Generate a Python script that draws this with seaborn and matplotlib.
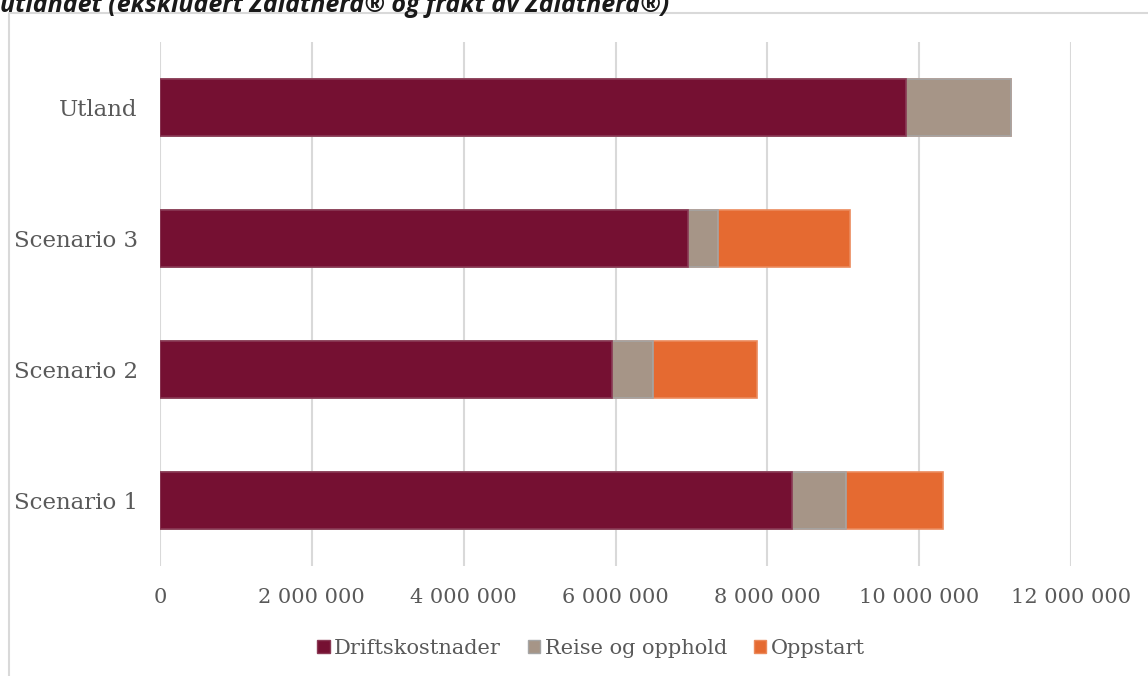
import matplotlib
matplotlib.use("Agg")
import matplotlib.pyplot as plt
from matplotlib.patches import Rectangle, Patch
import seaborn as sns
import pandas as pd
import numpy as np

categories = ["Utland", "Scenario 3", "Scenario 2", "Scenario 1"]
driftskostnader = [9830000, 6960000, 5950000, 8330000]
reise_og_opphold = [1380000, 390000, 550000, 700000]
oppstart = [0, 1740000, 1360000, 1280000]
series_names = ["Driftskostnader", "Reise og opphold", "Oppstart"]
colors = ["#751032", "#a69587", "#e56a31"]
edge_colors = ["#8a3a55", "#a5a5a5", "#eb8a5c"]
xticks = [0, 2000000, 4000000, 6000000, 8000000, 10000000, 12000000]

sns.set_theme(style="white")
plt.rcParams["font.family"] = ["DejaVu Serif"]

df = pd.DataFrame({
    "kategori": categories,
    "d": driftskostnader,
    "r": reise_og_opphold,
    "o": oppstart,
})
df["c1"] = df["d"]
df["c2"] = df["d"] + df["r"]
df["c3"] = df["c2"] + df["o"]

fig = plt.figure(figsize=(11.48, 6.76), dpi=100)
ax = fig.add_axes([160 / 1148, 1 - 566 / 676, 911 / 1148, 524 / 676])

# stacked bars: draw cumulative totals from back to front
for col, c, ec in zip(["c3", "c2", "c1"], colors[::-1], edge_colors[::-1]):
    sns.barplot(data=df, x=col, y="kategori", order=categories, color=c,
                saturation=1, width=0.435, edgecolor=ec, linewidth=1.2,
                ax=ax, orient="h", zorder=3)

ax.set_xlim(0, 12000000)
ax.set_ylim(3.5, -0.5)
ax.set_xticks(xticks)
ax.set_xticklabels([f"{v:,}".replace(",", " ") for v in xticks])
ax.xaxis.grid(True, color="#d9d9d9", linewidth=1.5, zorder=0)
ax.set_axisbelow(True)
ax.set_xlabel("")
ax.set_ylabel("")
for s in ax.spines.values():
    s.set_visible(False)
ax.tick_params(axis="both", length=0, colors="#595959")
ax.tick_params(axis="x", pad=16, labelsize=15)
ax.tick_params(axis="y", pad=16, labelsize=16.5)

handles = [Patch(facecolor=c, edgecolor=ec, linewidth=1) for c, ec in zip(colors, edge_colors)]
fig.legend(handles, series_names, loc="center", bbox_to_anchor=(591 / 1148, 1 - 648 / 676),
           ncol=3, frameon=False, fontsize=15, handlelength=0.6, handleheight=0.6,
           handletextpad=0.2, columnspacing=1.3, labelcolor="#595959")

# chart frame
fig.patches.append(Rectangle((9 / 1148, -0.1), 1.2, 1 - 13 / 676 + 0.1,
                             transform=fig.transFigure, fill=False,
                             edgecolor="#d9d9d9", linewidth=1.5))

fig.text(0.0, 1 - 12 / 676, "utlandet (ekskludert Zalatherd® og frakt av Zalatherd®)",
         family=["Open Sans", "DejaVu Sans"], fontsize=18, fontweight="bold",
         fontstyle="italic", color="#1a1a1a", va="baseline", ha="left")

fig.savefig("out.png", dpi=100)
